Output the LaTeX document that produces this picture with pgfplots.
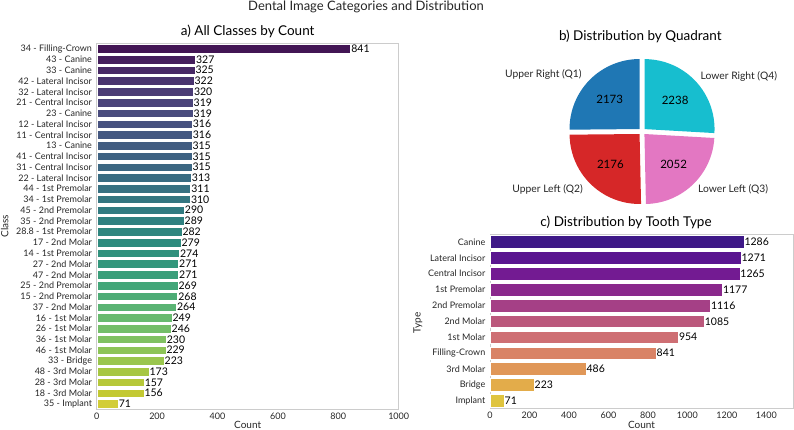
\documentclass[border=0pt]{standalone}
\usepackage{pgfplots}
\pgfplotsset{compat=1.18}
\usepackage{fontspec}
\setmainfont{Lato}

\newcommand\fs[1]{\fontsize{#1pt}{#1pt}\selectfont}

% frame and text greys
\definecolor{spine}{RGB}{204,204,204}
\definecolor{ink}{RGB}{38,38,38}

% viridis ramp (34 steps, muted), darkest first
\definecolor{va0}{RGB}{66,21,84}
\definecolor{va1}{RGB}{69,31,93}
\definecolor{va2}{RGB}{72,41,102}
\definecolor{va3}{RGB}{73,51,110}
\definecolor{va4}{RGB}{75,60,117}
\definecolor{va5}{RGB}{75,68,122}
\definecolor{va6}{RGB}{74,76,126}
\definecolor{va7}{RGB}{71,82,128}
\definecolor{va8}{RGB}{68,88,129}
\definecolor{va9}{RGB}{66,93,129}
\definecolor{va10}{RGB}{62,98,130}
\definecolor{va11}{RGB}{60,103,130}
\definecolor{va12}{RGB}{57,108,130}
\definecolor{va13}{RGB}{55,113,130}
\definecolor{va14}{RGB}{52,118,129}
\definecolor{va15}{RGB}{49,123,129}
\definecolor{va16}{RGB}{47,128,128}
\definecolor{va17}{RGB}{47,134,127}
\definecolor{va18}{RGB}{46,139,126}
\definecolor{va19}{RGB}{48,145,125}
\definecolor{va20}{RGB}{51,151,124}
\definecolor{va21}{RGB}{58,158,122}
\definecolor{va22}{RGB}{67,166,121}
\definecolor{va23}{RGB}{78,172,118}
\definecolor{va24}{RGB}{90,179,115}
\definecolor{va25}{RGB}{104,186,111}
\definecolor{va26}{RGB}{116,190,105}
\definecolor{va27}{RGB}{128,193,97}
\definecolor{va28}{RGB}{141,196,87}
\definecolor{va29}{RGB}{154,198,77}
\definecolor{va30}{RGB}{167,199,66}
\definecolor{va31}{RGB}{182,200,58}
\definecolor{va32}{RGB}{195,201,51}
\definecolor{va33}{RGB}{210,205,56}

% plasma ramp (11 steps, muted)
\definecolor{pl0}{RGB}{62,24,135}
\definecolor{pl1}{RGB}{90,21,144}
\definecolor{pl2}{RGB}{115,27,146}
\definecolor{pl3}{RGB}{138,40,140}
\definecolor{pl4}{RGB}{165,64,134}
\definecolor{pl5}{RGB}{187,88,124}
\definecolor{pl6}{RGB}{206,111,116}
\definecolor{pl7}{RGB}{217,131,102}
\definecolor{pl8}{RGB}{224,151,88}
\definecolor{pl9}{RGB}{227,172,74}
\definecolor{pl10}{RGB}{223,196,63}

% quadrant colours
\definecolor{qone}{HTML}{1F77B4}
\definecolor{qtwo}{HTML}{D62728}
\definecolor{qthree}{HTML}{E377C2}
\definecolor{qfour}{HTML}{17BECF}

\pgfplotsset{
  barpanel/.style={
    scale only axis, anchor=south west,
    xbar, bar width=0.8, bar shift=0pt,
    major tick length=0pt, tick style={draw=none},
    axis line style={draw=spine, line width=0.8pt},
    tick label style={font=\fs{9}, text=ink},
    yticklabel style={inner sep=0pt, xshift=-4.5pt},
    xticklabel style={inner sep=0pt, yshift=-3pt},
    label style={font=\fs{10}, text=ink},
    xlabel style={at={(axis description cs:0.5,0)}, anchor=north, inner sep=0pt, yshift=-12pt},
    title style={anchor=base, inner sep=0pt, font=\fs{13.5}, text=black},
    /pgf/number format/assume math mode=true,
    /pgf/number format/1000 sep={},
    point meta=x, nodes near coords,
    every node near coord/.append style={font=\fs{10.5}, text=black, anchor=west, inner sep=0pt, xshift=0.5pt},
    every axis plot/.append style={draw=white, line width=0.4pt},
    clip=false,
  },
}

% quadrant counts
\def\qOne{2173}
\def\qTwo{2176}
\def\qThree{2052}
\def\qFour{2238}

\newcommand\pieWedge[3]{%
  \fill[#3] ({3.5*cos((#1+#2)/2)},{3.5*sin((#1+#2)/2)})
    -- ({3.5*cos((#1+#2)/2)+70*cos(#1)},{3.5*sin((#1+#2)/2)+70*sin(#1)})
    arc[start angle=#1, end angle=#2, radius=70pt] -- cycle;
}

\begin{document}
\begin{tikzpicture}
\path[use as bounding box] (0pt,0pt) rectangle (794pt,430pt);

\node[anchor=base, font=\fs{13}, text=ink] at (366pt,419.3pt) {Dental Image Categories and Distribution};

% ---------- a) every class ----------
\begin{axis}[barpanel,
  at={(96.7pt,20.7pt)}, width=302pt, height=366pt,
  xmin=0, xmax=1000, ymin=-0.5, ymax=33.5,
  xtick={0,200,400,600,800,1000},
  ytick={0,...,33},
  yticklabels={35 - Implant, 18 - 3rd Molar, 28 - 3rd Molar, 48 - 3rd Molar,
    33 - Bridge, 46 - 1st Molar, 36 - 1st Molar, 26 - 1st Molar, 16 - 1st Molar,
    37 - 2nd Molar, 15 - 2nd Premolar, 25 - 2nd Premolar, 47 - 2nd Molar,
    27 - 2nd Molar, 14 - 1st Premolar, 17 - 2nd Molar, 28.8 - 1st Premolar,
    35 - 2nd Premolar, 45 - 2nd Premolar, 34 - 1st Premolar, 44 - 1st Premolar,
    22 - Lateral Incisor, 31 - Central Incisor, 41 - Central Incisor, 13 - Canine,
    11 - Central Incisor, 12 - Lateral Incisor, 23 - Canine, 21 - Central Incisor,
    32 - Lateral Incisor, 42 - Lateral Incisor, 33 - Canine, 43 - Canine,
    34 - Filling-Crown},
  xlabel={Count}, ylabel={Class},
  ylabel style={at={(axis description cs:-0.3046,0.5)}, anchor=center, inner sep=0pt},
  title={a) All Classes by Count},
  title style={at={(axis description cs:0.5,1)}, yshift=2pt},
]
\addplot[fill=va0]  coordinates {(841,33)};
\addplot[fill=va1]  coordinates {(327,32)};
\addplot[fill=va2]  coordinates {(325,31)};
\addplot[fill=va3]  coordinates {(322,30)};
\addplot[fill=va4]  coordinates {(320,29)};
\addplot[fill=va5]  coordinates {(319,28)};
\addplot[fill=va6]  coordinates {(319,27)};
\addplot[fill=va7]  coordinates {(316,26)};
\addplot[fill=va8]  coordinates {(316,25)};
\addplot[fill=va9]  coordinates {(315,24)};
\addplot[fill=va10] coordinates {(315,23)};
\addplot[fill=va11] coordinates {(315,22)};
\addplot[fill=va12] coordinates {(313,21)};
\addplot[fill=va13] coordinates {(311,20)};
\addplot[fill=va14] coordinates {(310,19)};
\addplot[fill=va15] coordinates {(290,18)};
\addplot[fill=va16] coordinates {(289,17)};
\addplot[fill=va17] coordinates {(282,16)};
\addplot[fill=va18] coordinates {(279,15)};
\addplot[fill=va19] coordinates {(274,14)};
\addplot[fill=va20] coordinates {(271,13)};
\addplot[fill=va21] coordinates {(271,12)};
\addplot[fill=va22] coordinates {(269,11)};
\addplot[fill=va23] coordinates {(268,10)};
\addplot[fill=va24] coordinates {(264,9)};
\addplot[fill=va25] coordinates {(249,8)};
\addplot[fill=va26] coordinates {(246,7)};
\addplot[fill=va27] coordinates {(230,6)};
\addplot[fill=va28] coordinates {(229,5)};
\addplot[fill=va29] coordinates {(223,4)};
\addplot[fill=va30] coordinates {(173,3)};
\addplot[fill=va31] coordinates {(157,2)};
\addplot[fill=va32] coordinates {(156,1)};
\addplot[fill=va33] coordinates {(71,0)};
\end{axis}

% ---------- b) quadrants ----------
\pgfmathsetmacro\qTot{\qOne+\qTwo+\qThree+\qFour}
\pgfmathsetmacro\aA{90}
\pgfmathsetmacro\aB{\aA+360*(\qOne/\qTot)}
\pgfmathsetmacro\aC{\aB+360*(\qTwo/\qTot)}
\pgfmathsetmacro\aD{\aC+360*(\qThree/\qTot)}
\pgfmathsetmacro\aE{\aD+360*(\qFour/\qTot)}
\pgfmathsetmacro\mA{(\aA+\aB)/2}
\pgfmathsetmacro\mB{(\aB+\aC)/2}
\pgfmathsetmacro\mC{(\aC+\aD)/2}
\pgfmathsetmacro\mD{(\aD+\aE)/2}
\node[anchor=base, font=\fs{13.5}, text=black] at (640.3pt,389pt) {b) Distribution by Quadrant};
\begin{axis}[
  at={(492pt,198.5pt)}, anchor=south west,
  x=1pt, y=1pt, xmin=-150, xmax=150, ymin=-100, ymax=100,
  hide axis, clip=false,
]
\pieWedge{\aA}{\aB}{qone}
\pieWedge{\aB}{\aC}{qtwo}
\pieWedge{\aC}{\aD}{qthree}
\pieWedge{\aD}{\aE}{qfour}
\node[font=\fs{11.5}] at ({45.5*cos(\mA)},{45.5*sin(\mA)}) {\qOne};
\node[font=\fs{11.5}] at ({45.5*cos(\mB)},{45.5*sin(\mB)}) {\qTwo};
\node[font=\fs{11.5}] at ({45.5*cos(\mC)},{45.5*sin(\mC)}) {\qThree};
\node[font=\fs{11.5}] at ({45.5*cos(\mD)},{45.5*sin(\mD)}) {\qFour};
\node[font=\fs{10.3}, text=ink, anchor=east, inner sep=0pt] at ({80.5*cos(\mA)-3},{80.5*sin(\mA)}) {Upper Right (Q1)};
\node[font=\fs{10.3}, text=ink, anchor=east, inner sep=0pt] at ({80.5*cos(\mB)-3},{80.5*sin(\mB)}) {Upper Left (Q2)};
\node[font=\fs{10.3}, text=ink, anchor=west, inner sep=0pt] at ({80.5*cos(\mC)},{80.5*sin(\mC)}) {Lower Left (Q3)};
\node[font=\fs{10.3}, text=ink, anchor=west, inner sep=0pt] at ({80.5*cos(\mD)},{80.5*sin(\mD)}) {Lower Right (Q4)};
\end{axis}

% ---------- c) tooth types ----------
\begin{axis}[barpanel,
  at={(490pt,21.3pt)}, width=303pt, height=174.7pt,
  xmin=0, xmax=1535, ymin=-0.5, ymax=10.5,
  xtick={0,200,400,600,800,1000,1200,1400},
  ytick={0,...,10},
  yticklabels={Implant, Bridge, 3rd Molar, Filling-Crown, 1st Molar, 2nd Molar,
    2nd Premolar, 1st Premolar, Central Incisor, Lateral Incisor, Canine},
  xlabel={Count}, ylabel={Type},
  ylabel style={at={(axis description cs:-0.2376,0.49)}, anchor=center, inner sep=0pt},
  title={c) Distribution by Tooth Type},
  title style={at={(axis description cs:0.449,1)}, yshift=1.5pt},
]
\addplot[fill=pl0]  coordinates {(1286,10)};
\addplot[fill=pl1]  coordinates {(1271,9)};
\addplot[fill=pl2]  coordinates {(1265,8)};
\addplot[fill=pl3]  coordinates {(1177,7)};
\addplot[fill=pl4]  coordinates {(1116,6)};
\addplot[fill=pl5]  coordinates {(1085,5)};
\addplot[fill=pl6]  coordinates {(954,4)};
\addplot[fill=pl7]  coordinates {(841,3)};
\addplot[fill=pl8]  coordinates {(486,2)};
\addplot[fill=pl9]  coordinates {(223,1)};
\addplot[fill=pl10] coordinates {(71,0)};
\end{axis}
\end{tikzpicture}
\end{document}
